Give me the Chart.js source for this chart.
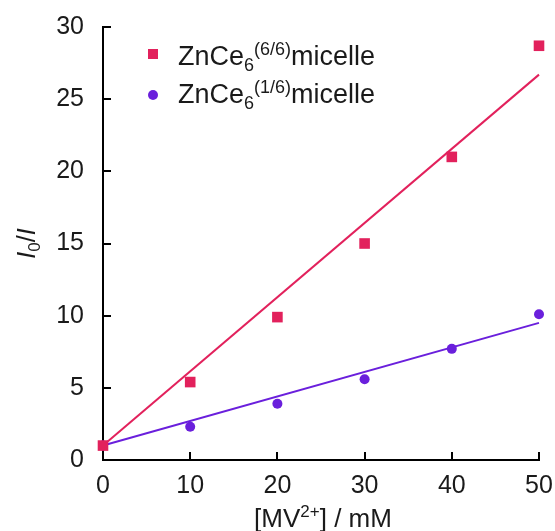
<!DOCTYPE html>
<html>
<head>
<meta charset="utf-8">
<script src="https://cdn.jsdelivr.net/npm/chart.js@4"></script>
<style>
  html, body { margin: 0; padding: 0; background: #fff; }
  #wrap { width: 555px; height: 531px; position: relative; }
</style>
</head>
<body>
<div id="wrap"><canvas id="c" width="555" height="531"></canvas></div>
<script>
// MV2+ concentration (mM)
const concentrations = [0, 10, 20, 30, 40, 50];
// Stern–Volmer ratios I0/I
const ratio66 = [1.0, 5.4, 9.9, 15.0, 21.0, 28.7];
const ratio16 = [1.0, 2.3, 3.9, 5.6, 7.7, 10.1];
// linear fits, evaluated at the ends of the range
const fitX = [0, 50];
const fit66 = [1.0, 26.7];
const fit16 = [1.0, 9.5];
// axis ticks
const xTicks = [0, 10, 20, 30, 40, 50];
const yTicks = [0, 5, 10, 15, 20, 25, 30];

const RED = '#e2215c';
const PURPLE = '#6a1fdc';
const INK = '#1a1a1a';
const FONT = '"Liberation Sans", Arial, sans-serif';

const pts = (xs, ys) => xs.map((x, i) => ({ x, y: ys[i] }));

// inward tick marks, axis titles and legend with sub/superscripts
const decorations = {
  id: 'decorations',
  afterDraw(chart) {
    const { ctx, scales: { x, y } } = chart;
    ctx.save();
    ctx.strokeStyle = '#000';
    ctx.lineWidth = 2;
    const y0 = y.getPixelForValue(0);
    const x0 = x.getPixelForValue(0);
    xTicks.forEach(v => {
      const px = Math.round(x.getPixelForValue(v));
      ctx.beginPath(); ctx.moveTo(px, y0); ctx.lineTo(px, y0 - 8); ctx.stroke();
    });
    yTicks.forEach(v => {
      const py = Math.round(y.getPixelForValue(v));
      ctx.beginPath(); ctx.moveTo(x0, py); ctx.lineTo(x0 + 8, py); ctx.stroke();
    });

    ctx.fillStyle = INK;
    ctx.textBaseline = 'alphabetic';

    // runs of text: [string, size, dy, italic]
    const drawRuns = (runs, sx, sy) => {
      let cx = sx;
      runs.forEach(([s, size, dy, it]) => {
        ctx.font = (it ? 'italic ' : '') + size + 'px ' + FONT;
        ctx.fillText(s, cx, sy + dy);
        cx += ctx.measureText(s).width;
      });
      return cx - sx;
    };
    const measureRuns = runs => runs.reduce((w, [s, size, dy, it]) => {
      ctx.font = (it ? 'italic ' : '') + size + 'px ' + FONT;
      return w + ctx.measureText(s).width;
    }, 0);

    // x-axis title
    const xt = [['[MV', 26, 0], ['2+', 17, -10], ['] / mM', 26, 0]];
    const xc = 323;
    ctx.textAlign = 'left';
    drawRuns(xt, xc - measureRuns(xt) / 2, 527);

    // y-axis title, rotated
    const yt = [['I', 25, 0, true], ['0', 17, 5, false], ['/', 25, 0, false], ['I', 25, 0, true]];
    ctx.save();
    ctx.translate(35, (y.top + y.bottom) / 2);
    ctx.rotate(-Math.PI / 2);
    drawRuns(yt, -measureRuns(yt) / 2, 0);
    ctx.restore();

    // legend
    const entries = [
      { color: RED, shape: 'rect', sup: '(6/6)', ty: 65 },
      { color: PURPLE, shape: 'circle', sup: '(1/6)', ty: 103 }
    ];
    entries.forEach(e => {
      ctx.fillStyle = e.color;
      if (e.shape === 'rect') {
        ctx.fillRect(148, e.ty - 16, 10, 10);
      } else {
        ctx.beginPath(); ctx.arc(153, e.ty - 8, 5, 0, Math.PI * 2); ctx.fill();
      }
      ctx.fillStyle = INK;
      drawRuns([['ZnCe', 27, 0], ['6', 18, 6], [e.sup, 18, -10], ['micelle', 27, 0]], 178, e.ty);
    });
    ctx.restore();
  }
};

new Chart(document.getElementById('c'), {
  type: 'scatter',
  data: {
    datasets: [
      { data: pts(fitX, fit66), showLine: true, borderColor: RED, borderWidth: 2, pointRadius: 0, order: 3 },
      { data: pts(fitX, fit16), showLine: true, borderColor: PURPLE, borderWidth: 2, pointRadius: 0, order: 3 },
      { data: pts(concentrations, ratio16), pointStyle: 'circle', pointRadius: 5, backgroundColor: PURPLE, borderWidth: 0, order: 2 },
      { data: pts(concentrations, ratio66), pointStyle: 'rect', pointRadius: 7.5, backgroundColor: RED, borderWidth: 0, order: 1 }
    ]
  },
  options: {
    responsive: false,
    animation: false,
    clip: false,
    layout: { padding: { left: 0, top: 27, right: 16, bottom: 0 } },
    plugins: { legend: { display: false }, tooltip: { enabled: false } },
    scales: {
      x: {
        type: 'linear', min: 0, max: 50,
        afterBuildTicks: s => { s.ticks = xTicks.map(v => ({ value: v })); },
        afterFit: s => { s.height = 71; s.paddingLeft = 0; s.paddingRight = 0; },
        grid: { display: false, drawTicks: false },
        border: { display: true, color: '#000', width: 2 },
        ticks: { color: INK, font: { family: FONT, size: 25 }, padding: 11 }
      },
      y: {
        type: 'linear', min: 0, max: 30,
        afterBuildTicks: s => { s.ticks = yTicks.map(v => ({ value: v })); },
        afterFit: s => { s.width = 103; s.paddingTop = 0; s.paddingBottom = 0; },
        grid: { display: false, drawTicks: false },
        border: { display: true, color: '#000', width: 2 },
        ticks: { color: INK, font: { family: FONT, size: 25 }, padding: 19 }
      }
    }
  },
  plugins: [decorations]
});
</script>
</body>
</html>
